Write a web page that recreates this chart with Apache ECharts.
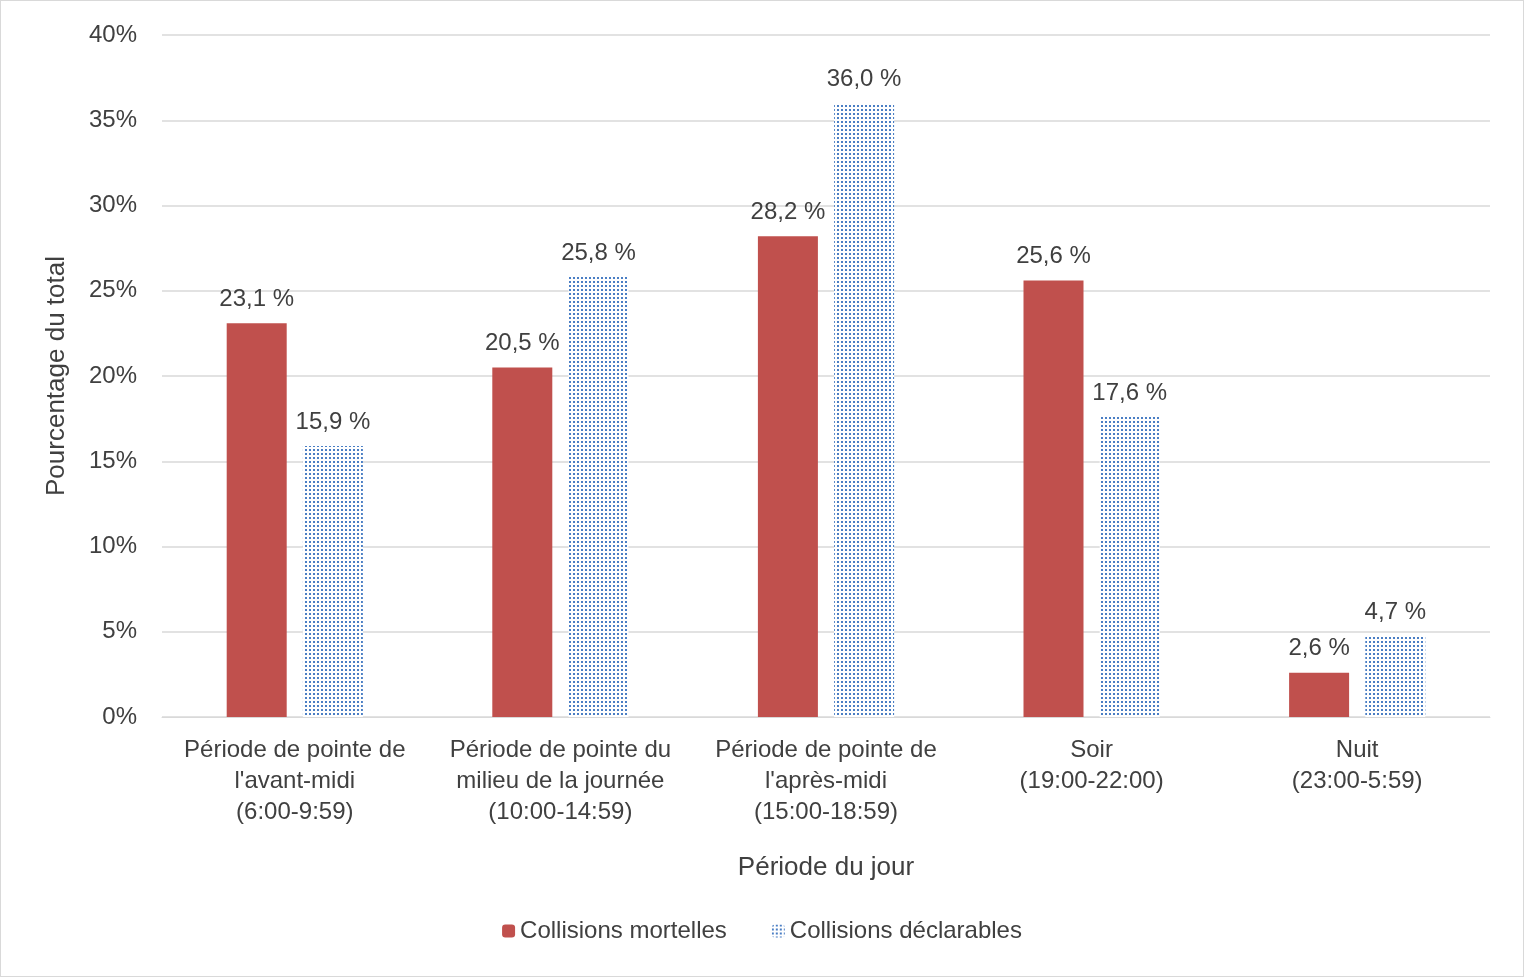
<!DOCTYPE html><html><head><meta charset="utf-8"><script src="https://cdn.jsdelivr.net/npm/echarts@6/dist/echarts.min.js"></script>
<style>html,body{margin:0;padding:0;background:#fff}#c{width:1522px;height:975px;border:1px solid #d9d9d9}</style></head><body><div id="c"></div><script>
const categories=["Période de pointe de\nl'avant-midi\n(6:00-9:59)","Période de pointe du\nmilieu de la journée\n(10:00-14:59)","Période de pointe de\nl'après-midi\n(15:00-18:59)","Soir\n(19:00-22:00)","Nuit\n(23:00-5:59)"];
const mortelles=[23.1,20.5,28.2,25.6,2.6];
const declarables=[15.9,25.8,36.0,17.6,4.7];
const yTicks=[0,5,10,15,20,25,30,35,40];
const cv=document.createElement('canvas');cv.width=4;cv.height=4;const g=cv.getContext('2d');g.fillStyle='#fff';g.fillRect(0,0,4,4);g.fillStyle='#4a7ec4';g.fillRect(0,0,2,2);
const pat={image:cv,repeat:'repeat'};
const fmt=p=>p.value.toFixed(1).replace('.',',')+' %';
const ch=echarts.init(document.getElementById('c'));
const ts={fontFamily:'Arial, Liberation Sans',color:'#404040',fontSize:24};
ch.setOption({animation:false,textStyle:{fontFamily:'Liberation Sans'},
grid:{left:161,right:33,top:34,bottom:259},
legend:{bottom:28,left:'center',itemWidth:13,itemHeight:13,itemGap:45,textStyle:{...ts,fontSize:24},data:['Collisions mortelles','Collisions déclarables']},
xAxis:{type:'category',data:categories,name:'Période du jour',nameLocation:'middle',nameGap:138,nameTextStyle:{...ts,fontSize:26},axisTick:{show:false},axisLine:{lineStyle:{color:'#d9d9d9'}},axisLabel:{...ts,lineHeight:31,margin:18,interval:0}},
yAxis:{type:'value',min:0,max:40,interval:5,name:'Pourcentage du total',nameLocation:'middle',nameGap:92,nameTextStyle:{...ts,fontSize:26},axisLabel:{...ts,formatter:v=>yTicks.includes(v)?v+'%':'',margin:25},splitLine:{lineStyle:{color:'#d9d9d9',width:1.5}}},
series:[{name:'Collisions mortelles',type:'bar',data:mortelles,barWidth:60,barGap:'27%',itemStyle:{color:'#c0504d'},label:{show:true,position:'top',formatter:fmt,...ts,distance:12}},
{name:'Collisions déclarables',type:'bar',data:declarables,barWidth:60,itemStyle:{color:pat},label:{show:true,position:'top',formatter:fmt,...ts,distance:12}}]});
</script></body></html>
